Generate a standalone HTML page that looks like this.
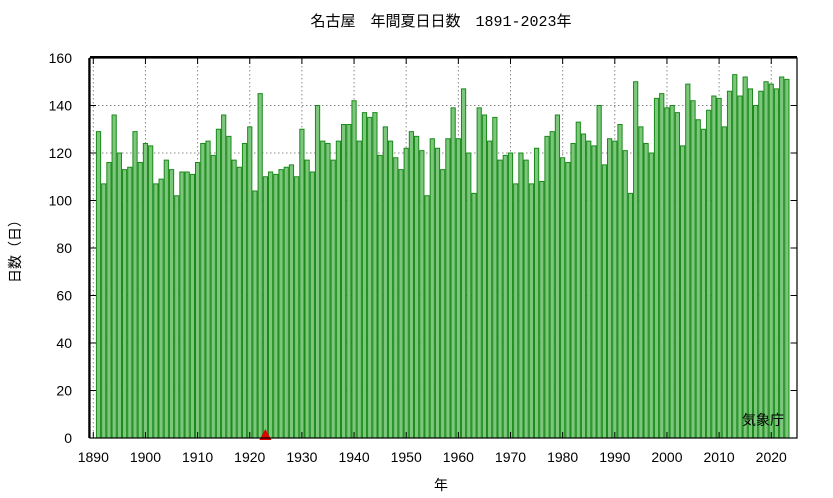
<!DOCTYPE html>
<html><head><meta charset="utf-8"><style>
body{margin:0;background:#fff;}
svg{display:block;font-family:"Liberation Sans","Noto Sans CJK JP",sans-serif;}
</style></head><body>
<svg id="chart" width="833" height="498">
<text x="441" y="26" text-anchor="middle" font-size="15">名古屋　年間夏日日数　<tspan font-family="Liberation Mono, monospace">1891-2023</tspan>年</text>
<text transform="translate(20,248) rotate(-90)" text-anchor="middle" font-size="14">日数（日）</text>
<text x="441" y="490" text-anchor="middle" font-size="14">年</text>
<g id="grid"></g><g id="bars"></g><g id="axes"></g>
<text x="784" y="425" text-anchor="end" font-size="14">気象庁</text>
</svg>
<script>
const years=[];for(let y=1891;y<=2023;y++)years.push(y);
const values=[129,107,116,136,120,113,114,129,116,124,123,107,109,117,113,102,112,112,111,116,124,125,119,130,136,127,117,114,124,131,104,145,110,112,111,113,114,115,110,130,117,112,140,125,124,117,125,132,132,142,125,137,135,137,119,131,125,118,113,122,129,127,121,102,126,122,113,126,139,126,147,120,103,139,136,125,135,117,119,120,107,120,117,107,122,108,127,129,136,118,116,124,133,128,125,123,140,115,126,125,132,121,103,150,131,124,120,143,145,139,140,137,123,149,142,134,130,138,144,143,131,146,153,144,152,147,140,146,150,149,147,152,151];
const yTicks=[0,20,40,60,80,100,120,140,160];
const xTicks=[1890,1900,1910,1920,1930,1940,1950,1960,1970,1980,1990,2000,2010,2020];
const markerYear=1923;
const L=90,R=797,T=58,B=438;
const xs=y=>93.3+(y-1890)*5.215;
const ys=v=>B-(v/160)*(B-T);
const NS="http://www.w3.org/2000/svg";
function mk(tag,attrs,parent){const e=document.createElementNS(NS,tag);for(const k in attrs)e.setAttribute(k,attrs[k]);parent.appendChild(e);return e;}
const grid=document.getElementById('grid'),bars=document.getElementById('bars'),axes=document.getElementById('axes');
yTicks.forEach(v=>{
 if(v>0&&v<160){const g=mk('line',{x1:L,x2:R,y1:ys(v),y2:ys(v),stroke:'#888','stroke-dasharray':'1.5,2.5'},grid);
 
 }
 const t=mk('text',{x:L-18,y:ys(v)+5,'text-anchor':'end','font-size':14},axes);t.textContent=v;
 
 
 mk('line',{x1:L,x2:L+6,y1:ys(v),y2:ys(v),stroke:'#000'},axes);
 mk('line',{x1:R,x2:R-6,y1:ys(v),y2:ys(v),stroke:'#000'},axes);
});
xTicks.forEach(y=>{
 const g=mk('line',{x1:xs(y),x2:xs(y),y1:T,y2:B,stroke:'#888','stroke-dasharray':'1.5,2.5'},grid);
 
 
 const t=mk('text',{x:xs(y),y:B+24,'text-anchor':'middle','font-size':14},axes);t.textContent=y;
 
 
 mk('line',{x1:xs(y),x2:xs(y),y1:B,y2:B-6,stroke:'#000'},axes);
 mk('line',{x1:xs(y),x2:xs(y),y1:T,y2:T+6,stroke:'#000'},axes);
});
years.forEach((y,i)=>{
 const w=5.215,x=xs(y)-w/2+0.5;
 const r=mk('rect',{x:x,y:ys(values[i]),width:w-1,height:B-ys(values[i]),fill:'#7cc77c',stroke:'#1a8a1a','stroke-width':1},bars);
 
 
});
const tri=mk('polygon',{points:`${xs(markerYear)-6},${B+2} ${xs(markerYear)+6},${B+2} ${xs(markerYear)},${B-9}`,fill:'#e00000'},axes);


const fr=mk('rect',{x:L,y:T,width:R-L,height:B-T,fill:'none',stroke:'#000','stroke-width':1.2},axes);


mk('line',{x1:L,x2:R,y1:T-1,y2:T-1,stroke:'#000','stroke-width':2},axes);
mk('line',{x1:L-1,x2:L-1,y1:T,y2:B,stroke:'#000','stroke-width':1.5},axes);
</script>
</body></html>
